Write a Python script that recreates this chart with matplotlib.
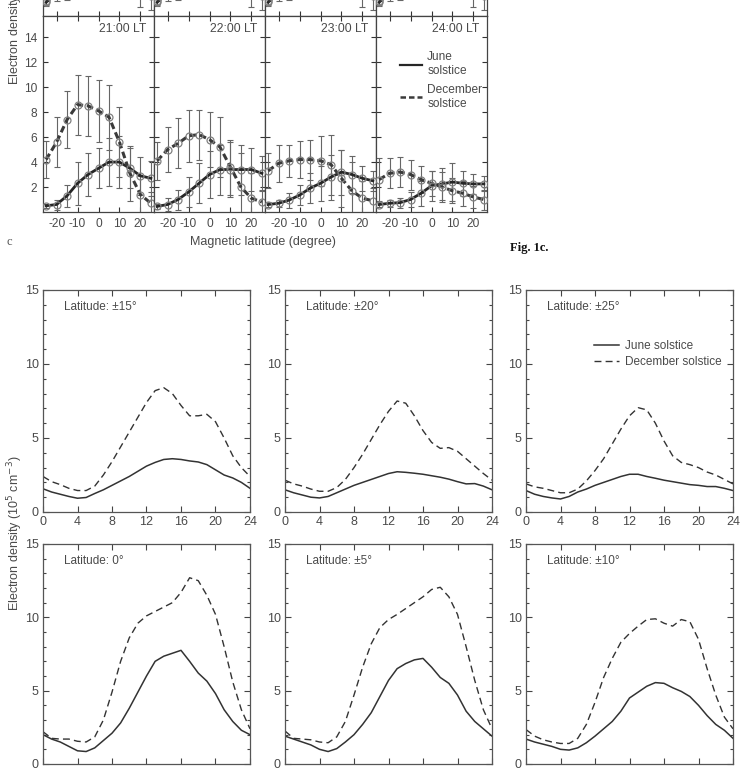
import matplotlib.pyplot as plt
from matplotlib.ticker import MultipleLocator
from matplotlib.lines import Line2D

# ---- top part (Fig. 1c, magnetic latitude profiles) ----
mlat = [-25, -20, -15, -10, -5, 0, 5, 10, 15, 20, 25]
lt_titles = ['21:00 LT', '22:00 LT', '23:00 LT', '24:00 LT']

june_21 = [0.5, 0.6, 1.3, 2.3, 3.0, 3.5, 4.0, 4.0, 3.5, 2.9, 2.7]
dec_21 = [4.2, 5.6, 7.4, 8.6, 8.5, 8.1, 7.6, 5.6, 3.1, 1.4, 0.7]
june_22 = [0.45, 0.6, 1.0, 1.6, 2.3, 3.0, 3.4, 3.4, 3.4, 3.4, 3.1]
dec_22 = [4.1, 5.0, 5.5, 6.1, 6.2, 5.8, 5.2, 3.6, 2.0, 1.1, 0.8]
june_23 = [0.6, 0.7, 0.95, 1.35, 1.9, 2.3, 2.8, 3.2, 3.0, 2.7, 2.5]
dec_23 = [3.3, 3.9, 4.1, 4.2, 4.2, 4.1, 3.8, 2.7, 1.7, 1.1, 0.9]
june_24 = [0.6, 0.7, 0.75, 1.0, 1.5, 2.1, 2.25, 2.4, 2.3, 2.25, 2.25]
dec_24 = [2.6, 3.1, 3.2, 3.0, 2.6, 2.3, 2.0, 1.7, 1.5, 1.2, 1.0]

june_err_21 = [0.15, 0.4, 0.9, 1.7, 1.7, 1.6, 1.9, 2.1, 1.6, 1.5, 1.4]
dec_err_21 = [1.45, 2.0, 2.3, 2.4, 2.4, 2.5, 2.6, 2.8, 2.2, 1.5, 0.9]
june_err_22 = [0.2, 0.5, 0.8, 1.2, 1.6, 1.9, 2.0, 2.2, 2.0, 1.7, 1.4]
dec_err_22 = [1.5, 1.8, 2.0, 2.1, 2.0, 2.2, 2.4, 2.2, 2.7, 2.0, 1.0]
june_err_23 = [0.2, 0.3, 0.6, 0.8, 1.2, 1.4, 1.8, 1.8, 1.5, 1.0, 0.8]
dec_err_23 = [1.4, 1.5, 1.3, 1.5, 1.6, 2.0, 2.4, 2.3, 2.3, 1.4, 1.0]
june_err_24 = [0.2, 0.3, 0.4, 0.6, 1.0, 1.2, 1.3, 1.5, 1.0, 0.8, 0.6]
dec_err_24 = [1.7, 1.2, 1.2, 1.2, 1.1, 1.0, 1.2, 1.0, 1.0, 0.9, 0.8]

# row above (17:00-20:00 LT), only its bottom edge is in the picture
june_top = [1.1, 1.8, 3.2, 5.0, 6.5, 7.5, 8.0, 8.0, 7.5, 6.5, 5.5]
dec_top = [1.2, 2.2, 4.0, 6.0, 7.5, 8.0, 7.5, 6.5, 5.0, 2.0, 1.6]
err_top = [0.3, 0.6, 1.9, 2.0, 2.0, 2.0, 2.0, 2.0, 2.0, 1.3, 1.1]

# ---- bottom part (diurnal variation by latitude) ----
hours = list(range(25))
lat_titles = ['Latitude: ±15°', 'Latitude: ±20°', 'Latitude: ±25°',
              'Latitude: 0°', 'Latitude: ±5°', 'Latitude: ±10°']

june_15 = [1.57, 1.35, 1.2, 1.05, 0.93, 0.98, 1.25, 1.5, 1.8, 2.1, 2.4, 2.75, 3.1,
           3.35, 3.55, 3.6, 3.55, 3.45, 3.38, 3.2, 2.85, 2.5, 2.3, 2.0, 1.6]
dec_15 = [2.4, 2.05, 1.85, 1.6, 1.45, 1.45, 1.75, 2.5, 3.4, 4.4, 5.4, 6.4, 7.4,
          8.2, 8.4, 8.0, 7.2, 6.5, 6.5, 6.6, 6.1, 5.0, 3.8, 3.0, 2.4]
june_20 = [1.5, 1.3, 1.15, 1.0, 0.95, 1.05, 1.3, 1.55, 1.8, 2.0, 2.2, 2.4, 2.6,
           2.72, 2.68, 2.62, 2.55, 2.45, 2.35, 2.22, 2.05, 1.9, 1.92, 1.75, 1.5]
dec_20 = [2.15, 1.9, 1.75, 1.55, 1.4, 1.4, 1.65, 2.2, 3.0, 3.9, 4.9, 5.9, 6.8,
          7.5, 7.35, 6.5, 5.5, 4.7, 4.3, 4.35, 4.1, 3.6, 3.1, 2.6, 2.15]
june_25 = [1.45, 1.2, 1.05, 0.95, 0.88, 1.05, 1.35, 1.55, 1.8, 2.0, 2.2, 2.4, 2.55,
           2.55, 2.4, 2.28, 2.15, 2.05, 1.95, 1.85, 1.8, 1.72, 1.72, 1.6, 1.45]
dec_25 = [1.9, 1.7, 1.6, 1.45, 1.3, 1.3, 1.55, 2.1, 2.8, 3.6, 4.6, 5.6, 6.5,
          7.05, 6.9, 6.0, 4.8, 3.8, 3.35, 3.2, 3.0, 2.7, 2.5, 2.2, 1.9]
june_0 = [2.0, 1.7, 1.5, 1.2, 0.9, 0.85, 1.1, 1.6, 2.1, 2.8, 3.8, 4.9, 6.0,
          7.0, 7.35, 7.55, 7.75, 7.0, 6.2, 5.65, 4.8, 3.7, 2.9, 2.3, 2.0]
dec_0 = [2.2, 1.75, 1.7, 1.7, 1.55, 1.5, 1.85, 3.0, 4.9, 7.0, 8.6, 9.6, 10.1,
         10.4, 10.7, 11.0, 11.7, 12.7, 12.5, 11.5, 10.2, 8.0, 5.6, 3.7, 2.4]
june_5 = [1.9, 1.7, 1.5, 1.3, 1.0, 0.85, 1.05, 1.5, 2.0, 2.7, 3.5, 4.6, 5.7,
          6.5, 6.85, 7.1, 7.2, 6.6, 5.9, 5.5, 4.7, 3.6, 2.9, 2.4, 1.9]
dec_5 = [2.25, 1.75, 1.7, 1.65, 1.5, 1.45, 1.85, 2.9, 4.7, 6.6, 8.2, 9.3, 9.85,
         10.2, 10.6, 11.0, 11.4, 11.9, 12.05, 11.4, 10.2, 8.0, 5.7, 3.7, 2.4]
june_10 = [1.7, 1.5, 1.35, 1.2, 1.0, 0.95, 1.1, 1.45, 1.9, 2.4, 2.9, 3.6, 4.5,
           4.9, 5.3, 5.55, 5.5, 5.2, 4.95, 4.6, 4.0, 3.3, 2.7, 2.3, 1.75]
dec_10 = [2.35, 1.9, 1.65, 1.5, 1.4, 1.4, 1.75, 2.7, 4.2, 5.9, 7.2, 8.3, 8.9,
          9.4, 9.85, 9.9, 9.6, 9.4, 9.85, 9.7, 8.5, 6.5, 4.7, 3.2, 2.4]

TXT = '#4a4a4a'
W, H = 743, 768

plt.rcParams['font.family'] = ['Liberation Sans', 'DejaVu Sans']
plt.rcParams['text.color'] = TXT
plt.rcParams['axes.unicode_minus'] = False
fig = plt.figure(figsize=(W / 100, H / 100), dpi=100)


def box(x0, y0, x1, y1):
    # pixel box (top-left origin) -> figure fraction rect
    return [x0 / W, 1 - y1 / H, (x1 - x0) / W, (y1 - y0) / H]


def style_top(ax):
    ax.set_xlim(-26.5, 26.5)
    ax.set_ylim(0, 15.7)
    ax.set_xticks([-20, -10, 0, 10, 20])
    ax.set_yticks(range(2, 15, 2))
    ax.tick_params(direction='in', top=True, right=True, length=3.5, width=0.8,
                   labelsize=8.6, colors='#333', labelcolor=TXT, pad=4)
    for s in ax.spines.values():
        s.set_color('#444')
        s.set_linewidth(0.9)


def draw_profile(ax, jv, je, dv, de):
    ax.errorbar(mlat, dv, yerr=de, fmt='none', ecolor='#666', elinewidth=0.8,
                capsize=2.2, capthick=0.8, zorder=2)
    ax.errorbar(mlat, jv, yerr=je, fmt='none', ecolor='#666', elinewidth=0.8,
                capsize=2.2, capthick=0.8, zorder=2)
    ax.plot(mlat, jv, color='#262626', lw=2.0, zorder=3)
    ax.plot(mlat, dv, color='#3a3a3a', lw=2.2, dashes=(2.2, 1.2), zorder=3)
    for v in (jv, dv):
        ax.plot(mlat, v, 'o', ms=5, mfc='none', mec='#808080', mew=0.9, zorder=4)


xs = [43, 154, 265, 376, 487]
june_sets = [june_21, june_22, june_23, june_24]
dec_sets = [dec_21, dec_22, dec_23, dec_24]
june_errs = [june_err_21, june_err_22, june_err_23, june_err_24]
dec_errs = [dec_err_21, dec_err_22, dec_err_23, dec_err_24]

for i in range(4):
    # row above (cut off by the page edge)
    ax_up = fig.add_axes(box(xs[i], -180, xs[i + 1], 16))
    style_top(ax_up)
    ax_up.tick_params(labelbottom=False, labelleft=False)
    draw_profile(ax_up, june_top, err_top, dec_top, err_top)

    ax = fig.add_axes(box(xs[i], 16, xs[i + 1], 212))
    style_top(ax)
    if i > 0:
        ax.tick_params(labelleft=False)
    draw_profile(ax, june_sets[i], june_errs[i], dec_sets[i], dec_errs[i])
    ax.text(0.93, 0.932, lt_titles[i], transform=ax.transAxes, ha='right',
            va='center', fontsize=8.8)
    if i == 3:
        handles = [Line2D([], [], color='#262626', lw=1.6),
                   Line2D([], [], color='#3a3a3a', lw=1.8, dashes=(2.2, 1.2))]
        ax.legend(handles, ['June\nsolstice', 'December\nsolstice'],
                  loc='upper left', bbox_to_anchor=(0.16, 0.85), frameon=False,
                  fontsize=8.6, handlelength=1.9, handletextpad=0.4,
                  borderpad=0, labelspacing=0.55, labelcolor=TXT)

fig.text(15 / W, 1 - 85 / H, 'Electron density (10$^5$ cm$^{-3}$)', rotation=90,
         ha='center', va='bottom', fontsize=9, color=TXT)
fig.text(263 / W, 1 - 242 / H, 'Magnetic latitude (degree)', ha='center',
         va='center', fontsize=9, color=TXT)
fig.text(9 / W, 1 - 242 / H, 'c', ha='center', va='center', fontsize=9,
         family='Liberation Serif', color='#555')
fig.text(510 / W, 1 - 248 / H, 'Fig. 1c.', ha='left', va='center', fontsize=9,
         family='Liberation Serif', weight='bold', color='#111')

# ---- bottom six panels ----
cols = [(43, 250), (285, 492), (526, 733)]
rows = [(290, 512), (544, 764)]
june_lat = [june_15, june_20, june_25, june_0, june_5, june_10]
dec_lat = [dec_15, dec_20, dec_25, dec_0, dec_5, dec_10]

for k in range(6):
    r, c = divmod(k, 3)
    ax = fig.add_axes(box(cols[c][0], rows[r][0], cols[c][1], rows[r][1]))
    ax.plot(hours, june_lat[k], color='#333', lw=1.1, label='June solstice')
    ax.plot(hours, dec_lat[k], color='#333', lw=1.0, dashes=(5, 3),
            label='December solstice')
    ax.set_xlim(0, 24)
    ax.set_ylim(0, 15)
    ax.set_xticks(range(0, 25, 4))
    ax.set_yticks([0, 5, 10, 15])
    ax.yaxis.set_minor_locator(MultipleLocator(1))
    ax.tick_params(which='both', direction='in', top=True, right=True,
                   colors='#444', labelcolor=TXT, labelsize=9, width=0.8)
    ax.tick_params(which='major', length=4, pad=3)
    ax.tick_params(which='minor', length=2)
    if r == 1:
        # the page ends right under this row
        ax.tick_params(labelbottom=False)
    for s in ax.spines.values():
        s.set_color('#555')
        s.set_linewidth(0.9)
    ax.text(0.1, 0.925, lat_titles[k], transform=ax.transAxes, ha='left',
            va='center', fontsize=8.5)
    if k == 2:
        ax.legend(loc='upper left', bbox_to_anchor=(0.3, 0.8), frameon=False,
                  fontsize=8.5, handlelength=2.1, handletextpad=0.5,
                  borderpad=0, labelspacing=0.3, labelcolor=TXT)

fig.text(15 / W, 1 - 533 / H, 'Electron density (10$^5$ cm$^{-3}$)', rotation=90,
         ha='center', va='center', fontsize=9, color=TXT)

fig.savefig('out.png', dpi=100)
